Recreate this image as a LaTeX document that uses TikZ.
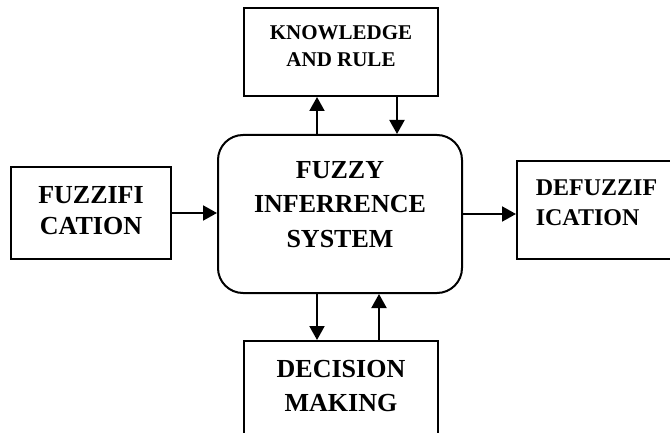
\documentclass[tikz,border=0pt]{standalone}
\usepackage{fontspec}
\setmainfont{Liberation Serif}
\usetikzlibrary{arrows.meta}
\newcommand{\boxlines}[3]{\raisebox{#1}[\height][\depth]{\begin{tabular}{@{}#2@{}}#3\end{tabular}}}
\begin{document}
\begin{tikzpicture}[x=1pt,y=1pt,
		box/.style={draw,line width=2pt,inner sep=0pt},
		flow/.style={line width=2pt,-{Triangle[length=14pt,width=15pt]}}]% une unité = un pixel de l'image
		\useasboundingbox (0,0) rectangle (670,432);
		\node[box,rounded corners=25pt,minimum width=244pt,minimum height=158pt,font=\fontsize{26}{35}\selectfont\bfseries] (fis) at (340,218) {\boxlines{8pt}{c}{FUZZY\\INFERRENCE\\SYSTEM}};
		\node[box,minimum width=194pt,minimum height=88pt,font=\fontsize{21}{27}\selectfont\bfseries] (know) at (341,380) {\boxlines{4.6pt}{c}{KNOWLEDGE\\AND RULE}};
		\node[box,minimum width=160pt,minimum height=92pt,font=\fontsize{26}{31}\selectfont\bfseries] (fuzz) at (91,219) {\boxlines{0pt}{c}{FUZZIFI\\CATION}};
		\node[box,minimum width=159pt,minimum height=98pt,font=\fontsize{24}{30}\selectfont\bfseries] (defuzz) at (596.5,222) {\boxlines{5pt}{l}{DEFUZZIF\\ICATION}};
		\node[box,minimum width=194pt,minimum height=100pt,font=\fontsize{26}{34}\selectfont\bfseries] (dec) at (341,41) {\boxlines{3.5pt}{c}{DECISION\\MAKING}};
		
		\draw[flow] (fuzz.east) -- (fuzz.east -| fis.west);
		\draw[flow] (fis.east) -- (fis.east -| defuzz.west);
		\draw[flow] ([xshift=-23pt]fis.north) -- ([xshift=-23pt]fis.north |- know.south);
		\draw[flow] ([xshift=56pt]know.south) -- ([xshift=56pt]know.south |- fis.north);
		\draw[flow] ([xshift=-23pt]fis.south) -- ([xshift=-23pt]fis.south |- dec.north);
		\draw[flow] ([xshift=38pt]dec.north) -- ([xshift=38pt]dec.north |- fis.south);
	\end{tikzpicture}
\end{document}
